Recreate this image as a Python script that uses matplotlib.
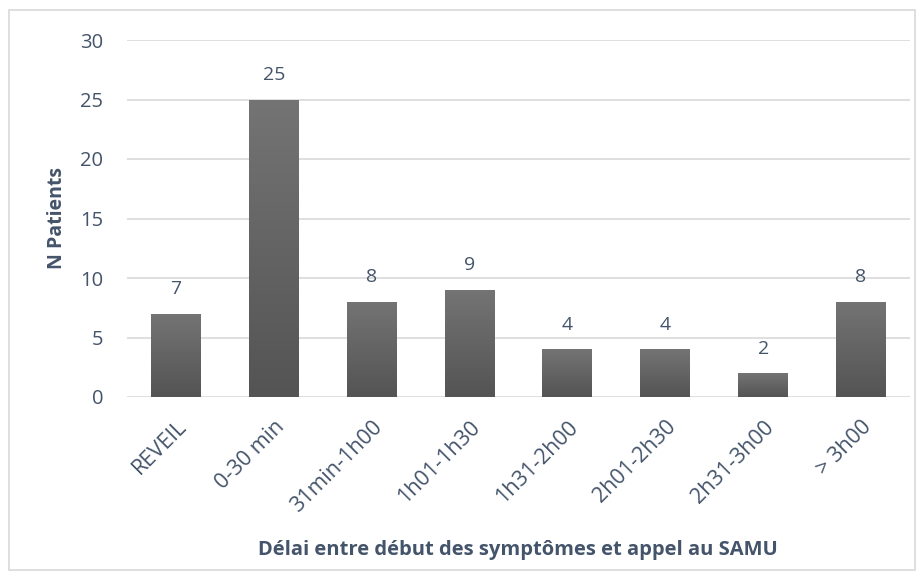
import numpy as np
import matplotlib
matplotlib.use('Agg')
import matplotlib.pyplot as plt
from matplotlib.patches import Rectangle
from matplotlib.colors import LinearSegmentedColormap

categories = ['REVEIL', '0-30 min', '31min-1h00', '1h01-1h30', '1h31-2h00',
              '2h01-2h30', '2h31-3h00', '> 3h00']
patients = [7, 25, 8, 9, 4, 4, 2, 8]
yticks = [0, 5, 10, 15, 20, 25, 30]

TXT = '#44546A'
plt.rcParams['font.family'] = ['Open Sans', 'DejaVu Sans']

fig = plt.figure(figsize=(9.24, 5.80), dpi=100)
ax = fig.add_axes([127/924, 1 - 397/580, 783/924, 357/580])

x = np.arange(len(categories))
bars = ax.bar(x, patients, width=0.51, color='#666666', zorder=2)

# vertical gradient on each bar
grad = np.linspace(0, 1, 256).reshape(-1, 1)
gcmap = LinearSegmentedColormap.from_list('g', ['#545454', '#747474'])
for b in bars:
    bx, by, bw, bh = b.get_x(), b.get_y(), b.get_width(), b.get_height()
    im = ax.imshow(grad, cmap=gcmap, aspect='auto', origin='lower',
                   extent=[bx, bx + bw, by, by + bh], zorder=3)
    im.set_clip_path(b)

for xi, v in zip(x, patients):
    ax.text(xi, v + 1.3, str(v), ha='center', va='bottom', fontsize=14, color=TXT)

ax.set_xlim(-0.5, len(categories) - 0.5)
ax.set_ylim(0, 30)
ax.set_yticks(yticks)
ax.set_xticks(x)
ax.set_xticklabels(categories, rotation=45, ha='right', rotation_mode='anchor',
                   fontsize=15.5, color=TXT)
ax.tick_params(axis='y', labelsize=14.5, labelcolor=TXT, length=0, pad=17)
ax.tick_params(axis='x', length=0, pad=14)
ax.grid(axis='y', color='#D9D9D9', linewidth=1.2, zorder=0)
for s in ax.spines.values():
    s.set_visible(False)

ax.set_ylabel('N Patients', fontsize=14, fontweight='bold', color=TXT, labelpad=0)
ax.yaxis.set_label_coords(67/924, 1 - 218.5/580, transform=fig.transFigure)
fig.text(518/924, 1 - 550/580, 'Délai entre début des symptômes et appel au SAMU',
         ha='center', va='center', fontsize=14.5, fontweight='bold', color=TXT)

fig.patches.append(Rectangle((9/924, 10/580), 906/924, 560/580, transform=fig.transFigure,
                             fill=False, edgecolor='#D9D9D9', linewidth=1.2))

fig.savefig('out.png', dpi=100, facecolor='white')
